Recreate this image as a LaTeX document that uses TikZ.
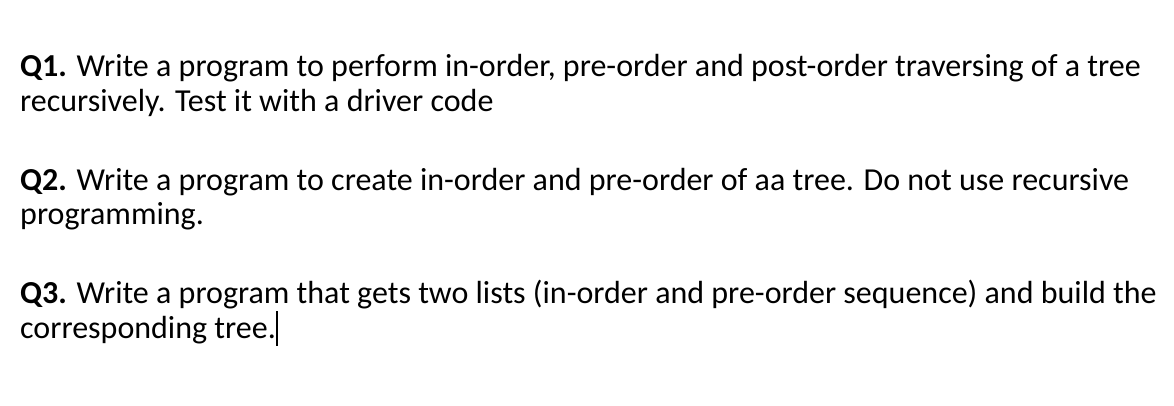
\documentclass[tikz,border=0pt]{standalone}
\usepackage{fontspec}
\setmainfont{Carlito}
\begin{document}
\begin{tikzpicture}[x=1pt,y=-1pt,
  txt/.style={anchor=base west,inner sep=0pt,font=\fontsize{32}{38}\selectfont}]
\useasboundingbox (0,0) rectangle (1174,406);
\node[txt] (a1) at (20,77) {\textbf{Q1.} Write a program to perform in-order, pre-order and post-order traversing of a tree};
\node[txt] (a2) at (20,112) {recursively. Test it with a driver code};
\node[txt] (b1) at (20,190) {\textbf{Q2.} Write a program to create in-order and pre-order of aa tree. Do not use recursive};
\node[txt] (b2) at (20,224) {programming.};
\node[txt] (c1) at (20,303) {\textbf{Q3.} Write a program that gets two lists (in-order and pre-order sequence) and build the};
\node[txt] (c2) at (20,338) {corresponding tree.};
\draw[line width=1.2pt] ([xshift=1pt]c2.base east) ++(0,-27) -- ++(0,35);
\end{tikzpicture}
\end{document}
